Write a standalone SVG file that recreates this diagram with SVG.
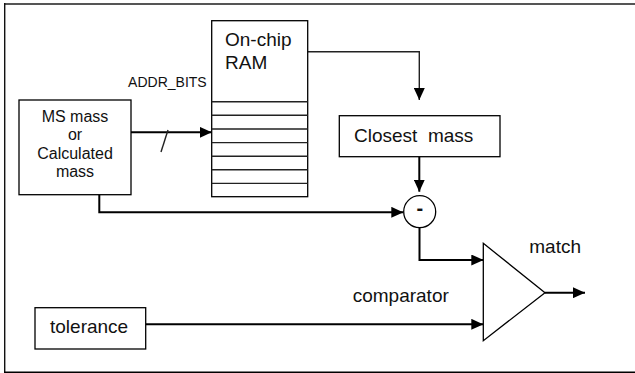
<svg xmlns="http://www.w3.org/2000/svg" width="635" height="373" viewBox="0 0 635 373">
<style>
.box{fill:#fff;stroke:#000;stroke-width:1.3}
.t{font-family:"Liberation Sans",Arial,sans-serif;fill:#111}
.big{font-size:19px}
.mid{font-size:16px}
.sm{font-size:14px}
.wire{fill:none;stroke:#000;stroke-width:2}
.thin{fill:none;stroke:#222;stroke-width:1.4}
</style>
<defs>
<marker id="ah" viewBox="0 0 12 11" refX="12" refY="5.5" markerWidth="12" markerHeight="11" markerUnits="userSpaceOnUse" orient="auto">
<path d="M0,0 L12,5.5 L0,11 z" fill="#000"/>
</marker>
</defs>
<rect width="635" height="373" fill="#fff"/>
<g id="frame">
<line x1="4.7" y1="4" x2="635" y2="4" stroke="#555" stroke-width="2"/>
<line x1="4.7" y1="3" x2="4.7" y2="372.3" stroke="#111" stroke-width="1.4"/>
<line x1="4" y1="372.3" x2="635" y2="372.3" stroke="#000" stroke-width="1.6"/>
</g>
<g id="connectors">
<path class="wire" d="M131,132.3 H211.7" marker-end="url(#ah)"/>
<path class="thin" d="M168,130 L161,152"/>
<path class="thin" d="M307.7,51.7 H419.3 V100" marker-end="url(#ah)"/>
<path class="wire" d="M419.3,156.7 V191.7" marker-end="url(#ah)"/>
<path class="wire" d="M99.3,194.7 V212.3 H403.3" marker-end="url(#ah)"/>
<path class="wire" d="M419.5,227.7 V260 H483.3" marker-end="url(#ah)"/>
<path class="wire" d="M145.7,324.3 H483.3" marker-end="url(#ah)"/>
<path class="wire" d="M545,292.7 H585" marker-end="url(#ah)"/>
</g>
<g id="ram">
<rect class="box" x="211.7" y="20.7" width="96" height="176"/>
<path class="thin" d="M211.7,101.7 H307.7 M211.7,115.3 H307.7 M211.7,129 H307.7 M211.7,142.6 H307.7 M211.7,156.2 H307.7 M211.7,169.8 H307.7 M211.7,183.4 H307.7"/>
<text class="t big" x="225" y="45.7">On-chip</text>
<text class="t big" x="225" y="69">RAM</text>
</g>
<g id="addr-label">
<text class="t sm" x="206.7" y="87.3" text-anchor="end">ADDR_BITS</text>
</g>
<g id="ms-mass">
<rect class="box" x="19" y="100" width="112" height="94.7"/>
<text class="t mid" x="75" y="121.7" text-anchor="middle">MS mass</text>
<text class="t mid" x="75" y="140" text-anchor="middle">or</text>
<text class="t mid" x="75" y="159.3" text-anchor="middle">Calculated</text>
<text class="t mid" x="75" y="176.7" text-anchor="middle">mass</text>
</g>
<g id="closest-mass">
<rect class="box" x="339.3" y="115.7" width="160.7" height="41"/>
<text class="t big" x="354" y="141.7" style="white-space:pre">Closest  mass</text>
</g>
<g id="subtract">
<circle cx="419.7" cy="211.7" r="16" fill="#fff" stroke="#000" stroke-width="1.3"/>
<text class="t" x="419.8" y="214.8" text-anchor="middle" font-size="20" font-weight="bold">-</text>
</g>
<g id="tolerance">
<rect class="box" x="35" y="307.7" width="110.7" height="41.3"/>
<text class="t big" x="50" y="333.3">tolerance</text>
</g>
<g id="comparator">
<path d="M483.3,243.3 L545,292.7 L483.3,340.7 Z" fill="#fff" stroke="#000" stroke-width="1.3"/>
<text class="t big" x="352.7" y="301.7">comparator</text>
</g>
<g id="match-label">
<text class="t big" x="529.3" y="252.7">match</text>
</g>
</svg>
